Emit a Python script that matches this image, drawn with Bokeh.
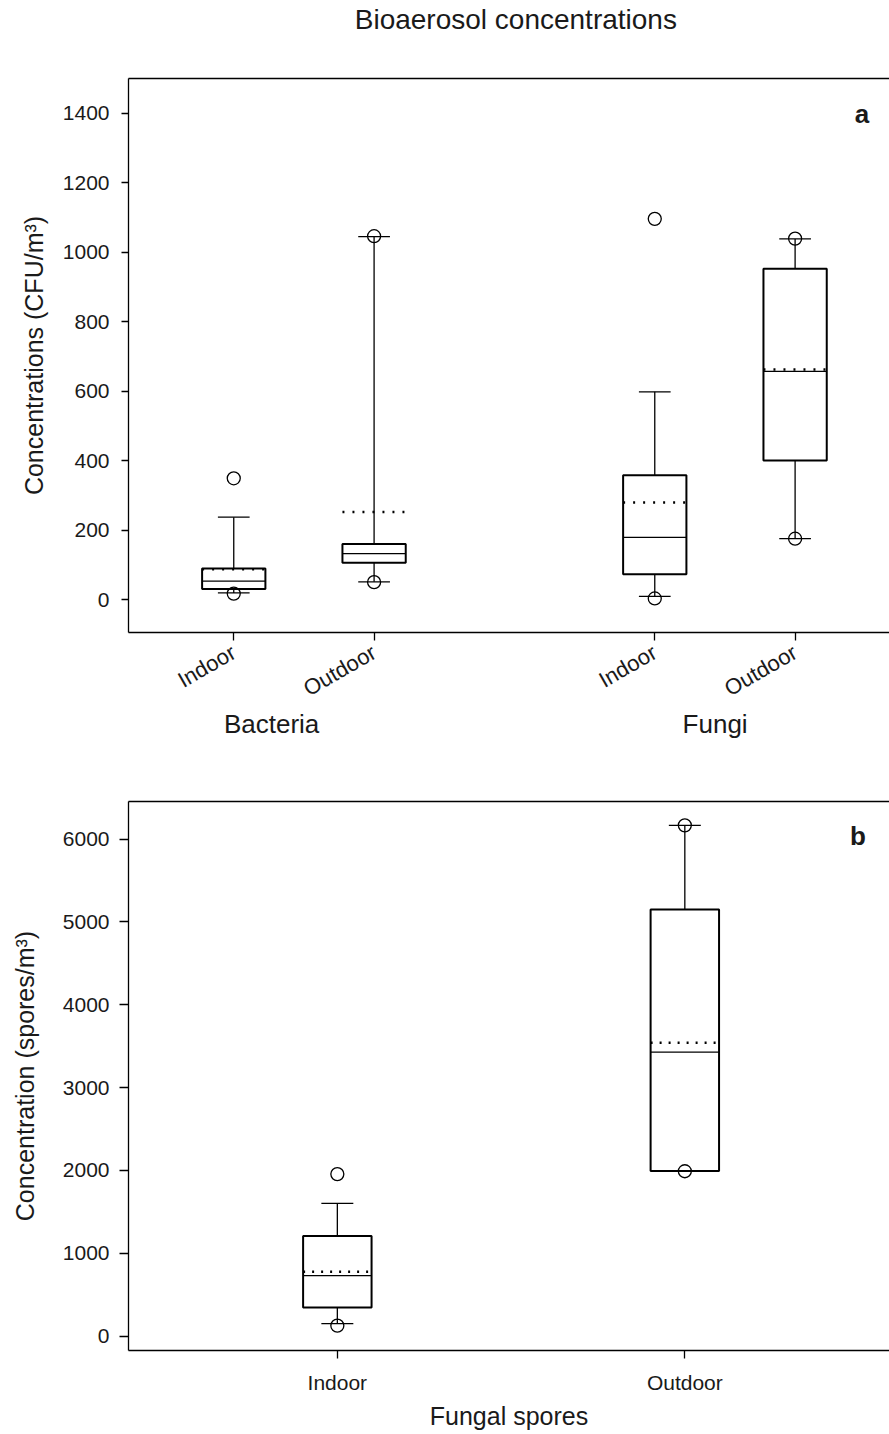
import math
from bokeh.plotting import figure
from bokeh.models import (Range1d, LinearAxis, FixedTicker, SingleIntervalTicker,
                          Label, ColumnDataSource)
from bokeh.layouts import column
from bokeh.embed import file_html
from bokeh.resources import INLINE

FONT = "Liberation Sans"
TXT = "#1a1a1a"

TITLE = "Bioaerosol concentrations"

# ---------------- Panel a : culturable bioaerosols (CFU/m3) ----------------
a_pos = [1, 2, 4, 5]
a_cats = ["Indoor", "Outdoor", "Indoor", "Outdoor"]
a_groups = ["Bacteria", "Fungi"]
a_group_pos = [1.27, 4.43]
a_q1 = [30, 106, 73, 400]
a_median = [53, 132, 179, 657]
a_q3 = [89, 160, 358, 952]
a_mean = [87, 252, 279, 662]
a_whisk_lo = [19, 51, 9, 175]
a_whisk_hi = [237, 1045, 598, 1038]
a_pts_x = [1, 1, 2, 2, 4, 4, 5, 5]
a_pts_y = [17, 349, 50, 1046, 3, 1096, 175, 1039]

# ---------------- Panel b : fungal spores (spores/m3) ----------------
b_pos = [1, 2]
b_cats = ["Indoor", "Outdoor"]
b_q1 = [343, 1992]
b_median = [729, 3428]
b_q3 = [1207, 5150]
b_mean = [777, 3543]
b_whisk_lo = [150, 1990]
b_whisk_hi = [1602, 6167]
b_pts_x = [1, 1, 2, 2]
b_pts_y = [125, 1955, 1990, 6167]


def style_common(p, title_at=None):
    p.background_fill_color = "white"
    p.border_fill_color = "white"
    p.outline_line_color = None
    p.xgrid.visible = False
    p.ygrid.visible = False
    for ax in p.axis:
        ax.axis_line_color = "black"
        ax.axis_line_width = 1.3
        ax.major_tick_line_color = "black"
        ax.major_tick_line_width = 1.3
        ax.minor_tick_line_color = None
        ax.major_tick_in = 0
        ax.major_label_text_font = FONT
        ax.major_label_text_color = TXT
        ax.major_label_text_font_size = "21px"
        ax.axis_label_text_font = FONT
        ax.axis_label_text_color = TXT
        ax.axis_label_text_font_size = "25px"
        ax.axis_label_text_font_style = "normal"
    # top frame line (no right line: the frame runs past the picture edge);
    # it also carries the chart title as its single label
    ticks = [] if title_at is None else [title_at]
    top = LinearAxis(ticker=FixedTicker(ticks=ticks), major_tick_out=0, major_tick_in=0,
                     major_tick_line_color=None,
                     axis_line_color="black", axis_line_width=1.3,
                     minor_tick_line_color=None,
                     major_label_text_font=FONT, major_label_text_color=TXT,
                     major_label_text_font_size="28px", major_label_standoff=44)
    if title_at is not None:
        top.major_label_overrides = {title_at: TITLE}
    else:
        top.major_label_text_font_size = "0px"
        top.major_label_standoff = 0
    p.add_layout(top, "above")


def draw_boxes(p, pos, q1, med, q3, mean, lo, hi, px, py, box_w, cap_w, dash):
    h = box_w / 2.0
    c = cap_w / 2.0
    src = ColumnDataSource(dict(
        x=pos, q1=q1, med=med, q3=q3, mean=mean, lo=lo, hi=hi,
        bx0=[v - h for v in pos], bx1=[v + h for v in pos],
        cx0=[v - c for v in pos], cx1=[v + c for v in pos]))
    p.segment(x0="x", y0="q3", x1="x", y1="hi", source=src, line_color="black", line_width=1.3)
    p.segment(x0="x", y0="lo", x1="x", y1="q1", source=src, line_color="black", line_width=1.3)
    p.segment(x0="cx0", y0="hi", x1="cx1", y1="hi", source=src, line_color="black", line_width=1.3)
    p.segment(x0="cx0", y0="lo", x1="cx1", y1="lo", source=src, line_color="black", line_width=1.3)
    p.quad(left="bx0", right="bx1", bottom="q1", top="q3", source=src,
           fill_color=None, line_color="black", line_width=2)
    p.segment(x0="bx0", y0="med", x1="bx1", y1="med", source=src, line_color="black", line_width=1.3)
    p.segment(x0="bx0", y0="mean", x1="bx1", y1="mean", source=src, line_color="black",
              line_width=2.5, line_dash=dash, line_cap="butt")
    p.scatter(x=px, y=py, marker="circle", size=13, fill_color=None,
              line_color="black", line_width=1.3)


# ---------------- figure a ----------------
pa = figure(frame_width=764, frame_height=554, output_backend="svg", toolbar_location=None,
            x_range=Range1d(0.25, 5.694), y_range=Range1d(-95, 1500),
            min_border_left=125, min_border_right=0, min_border_top=78, min_border_bottom=128)

pa.xaxis.ticker = FixedTicker(ticks=a_pos)
pa.xaxis.major_label_overrides = {v: t for v, t in zip(a_pos, a_cats)}
pa.xaxis.major_label_orientation = math.pi / 6
pa.xaxis.major_tick_out = 8
pa.xaxis.major_label_standoff = 10
pa.yaxis.ticker = SingleIntervalTicker(interval=200)
pa.yaxis.major_tick_out = 7
pa.yaxis.major_label_standoff = 12
pa.yaxis.axis_label = "Concentrations (CFU/m³)"
pa.yaxis.axis_label_standoff = 12
style_common(pa, title_at=3.01)
pa.below[0].major_label_text_font_size = "22px"

grp = LinearAxis(ticker=FixedTicker(ticks=a_group_pos),
                 major_label_overrides={v: t for v, t in zip(a_group_pos, a_groups)},
                 axis_line_color=None, major_tick_line_color=None, minor_tick_line_color=None,
                 major_tick_out=0, major_tick_in=0,
                 major_label_text_font=FONT, major_label_text_font_size="26px",
                 major_label_text_color=TXT, major_label_standoff=-6)
pa.add_layout(grp, "below")

draw_boxes(pa, a_pos, a_q1, a_median, a_q3, a_mean, a_whisk_lo, a_whisk_hi,
           a_pts_x, a_pts_y, box_w=0.451, cap_w=0.226, dash="2 8")
pa.add_layout(Label(x=5.476, y=1398, text="a", text_font=FONT, text_font_size="26px",
                    text_font_style="bold", text_color=TXT, text_align="center",
                    text_baseline="alphabetic"))

# ---------------- figure b ----------------
pb = figure(frame_width=761, frame_height=549, output_backend="svg", toolbar_location=None,
            x_range=Range1d(0.399, 2.589), y_range=Range1d(-175, 6455),
            min_border_left=128, min_border_right=0, min_border_top=41, min_border_bottom=74)
pb.xaxis.ticker = FixedTicker(ticks=b_pos)
pb.xaxis.major_label_overrides = {v: t for v, t in zip(b_pos, b_cats)}
pb.xaxis.major_tick_out = 8
pb.xaxis.major_label_standoff = 12
pb.xaxis.axis_label = "Fungal spores"
pb.xaxis.axis_label_standoff = 5
pb.yaxis.ticker = SingleIntervalTicker(interval=1000)
pb.yaxis.major_tick_out = 9
pb.yaxis.major_label_standoff = 10
pb.yaxis.axis_label = "Concentration (spores/m³)"
pb.yaxis.axis_label_standoff = 21
style_common(pb)

draw_boxes(pb, b_pos, b_q1, b_median, b_q3, b_mean, b_whisk_lo, b_whisk_hi,
           b_pts_x, b_pts_y, box_w=0.197, cap_w=0.092, dash="2 7")
pb.add_layout(Label(x=2.498, y=6044, text="b", text_font=FONT, text_font_size="26px",
                    text_font_style="bold", text_color=TXT, text_align="center",
                    text_baseline="alphabetic"))

layout = column(pa, pb, spacing=0)
open("out.html", "w").write(file_html(layout, INLINE))
